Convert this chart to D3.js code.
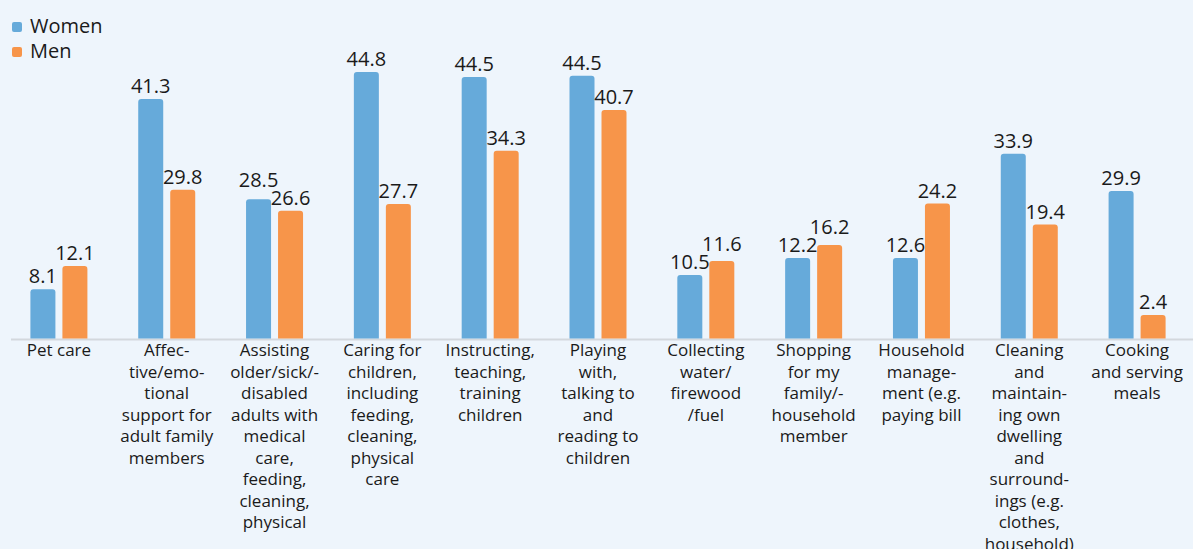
<!DOCTYPE html>
<html>
<head>
<meta charset="utf-8">
<script src="https://cdn.jsdelivr.net/npm/d3@7"></script>
<style>
  html, body { margin: 0; padding: 0; background: #EEF5FC; }
  svg { display: block; font-family: "Open Sans", sans-serif; }
</style>
</head>
<body>
<svg id="chart" width="1193" height="549"></svg>
<script>
// Category labels (line breaks as shown in the chart)
const categories = [
  "Pet care",
  "Affec-\ntive/emo-\ntional\nsupport for\nadult family\nmembers",
  "Assisting\nolder/sick/-\ndisabled\nadults with\nmedical\ncare,\nfeeding,\ncleaning,\nphysical",
  "Caring for\nchildren,\nincluding\nfeeding,\ncleaning,\nphysical\ncare",
  "Instructing,\nteaching,\ntraining\nchildren",
  "Playing\nwith,\ntalking to\nand\nreading to\nchildren",
  "Collecting\nwater/\nfirewood\n/fuel",
  "Shopping\nfor my\nfamily/-\nhousehold\nmember",
  "Household\nmanage-\nment (e.g.\npaying bill",
  "Cleaning\nand\nmaintain-\ning own\ndwelling\nand\nsurround-\nings (e.g.\nclothes,\nhousehold)",
  "Cooking\nand serving\nmeals"
];
const seriesNames = ["Women", "Men"];
// Value labels printed on the chart
const womenLabels = ["8.1", "41.3", "28.5", "44.8", "44.5", "44.5", "10.5", "12.2", "12.6", "33.9", "29.9"];
const menLabels   = ["12.1", "29.8", "26.6", "27.7", "34.3", "40.7", "11.6", "16.2", "24.2", "19.4", "2.4"];
// Bar lengths as drawn in the picture
const womenValues = [8.2, 39.9, 23.2, 44.4, 43.6, 43.8, 10.6, 13.4, 13.4, 30.8, 24.6];
const menValues   = [12.1, 24.8, 21.3, 22.4, 31.3, 38.1, 12.9, 15.6, 22.5, 19.0, 3.9];

const colors = ["#66AADA", "#F7954A"];
const svg = d3.select("#chart");
const W = 1193, H = 549;
const baseY = 338.5;

const x = d3.scaleBand().domain(d3.range(categories.length)).range([5, 1191]).padding(0);
const y = d3.scaleLinear().domain([0, 50]).range([baseY, baseY - 300]);

const barW = 25, gap = 7;
const series = [
  { name: seriesNames[0], values: womenValues, labels: womenLabels, color: colors[0], off: -gap / 2 - barW },
  { name: seriesNames[1], values: menValues, labels: menLabels, color: colors[1], off: gap / 2 }
];

function topRounded(x0, y0, w, h, r) {
  r = Math.min(r, h, w / 2);
  return `M${x0},${y0 + h}V${y0 + r}Q${x0},${y0} ${x0 + r},${y0}H${x0 + w - r}Q${x0 + w},${y0} ${x0 + w},${y0 + r}V${y0 + h}Z`;
}

// Baseline
svg.append("line")
  .attr("x1", 11).attr("x2", W)
  .attr("y1", baseY + 1).attr("y2", baseY + 1)
  .attr("stroke", "#D3D8DD").attr("stroke-width", 2);

// Bars
const center = i => x(i) + x.bandwidth() / 2;
series.forEach(s => {
  svg.append("g").selectAll("path").data(s.values).join("path")
    .attr("d", (v, i) => topRounded(center(i) + s.off, y(v), barW, baseY - y(v), 3))
    .attr("fill", s.color);
});

// Value labels with simple collision avoidance
const fs = 20, th = 15;
categories.forEach((c, i) => {
  const items = series.map(s => {
    const cx = center(i) + s.off + barW / 2;
    const text = s.labels[i];
    const w = text.length * fs * 0.55;
    return { cx, text, w, yb: y(s.values[i]) - 6 };
  });
  const [a, b] = items;
  const hOverlap = Math.abs(a.cx - b.cx) < (a.w + b.w) / 2;
  if (hOverlap && Math.abs(a.yb - b.yb) < th + 3) {
    if (a.yb <= b.yb) a.yb = b.yb - (th + 3); else b.yb = a.yb - (th + 3);
  }
  items.forEach(it => {
    svg.append("text")
      .attr("x", it.cx).attr("y", it.yb)
      .attr("text-anchor", "middle")
      .attr("font-size", fs)
      .attr("fill", "#1A1A1A")
      .text(it.text);
  });
});

// Category labels
categories.forEach((c, i) => {
  const t = svg.append("text")
    .attr("x", center(i)).attr("y", 356)
    .attr("text-anchor", "middle")
    .attr("font-size", 17)
    .attr("fill", "#1A1A1A");
  c.split("\n").forEach((line, k) => {
    t.append("tspan").attr("x", center(i)).attr("y", 356 + k * 21.5).text(line);
  });
});

// Legend
const leg = svg.append("g");
series.forEach((s, k) => {
  leg.append("rect").attr("x", 12).attr("y", 22 + k * 25).attr("width", 10).attr("height", 10)
    .attr("rx", 2).attr("fill", s.color);
  leg.append("text").attr("x", 30).attr("y", 33 + k * 25)
    .attr("font-size", 20).attr("fill", "#1A1A1A").text(s.name);
});
</script>
</body>
</html>
